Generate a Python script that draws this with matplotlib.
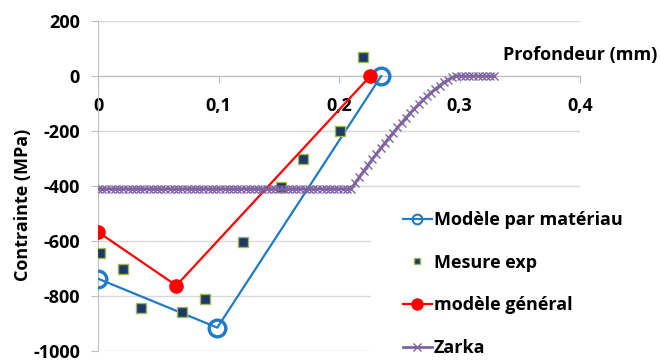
import matplotlib
matplotlib.use("Agg")
import matplotlib.pyplot as plt

# data
mat_x = [0, 0.099, 0.235]
mat_y = [-737, -915, 0]

exp_x = [0.002, 0.021, 0.036, 0.07, 0.089, 0.12, 0.152, 0.17, 0.201, 0.22]
exp_y = [-642, -702, -842, -858, -812, -605, -402, -300, -200, 68]

gen_x = [0, 0.065, 0.226]
gen_y = [-567, -762, 0]

zarka_x = [0, 0.0035, 0.007, 0.0105, 0.014, 0.0175, 0.021, 0.0245, 0.028, 0.0315,
           0.035, 0.0385, 0.042, 0.0455, 0.049, 0.0525, 0.056, 0.0595, 0.063, 0.0665,
           0.07, 0.0735, 0.077, 0.0805, 0.084, 0.0875, 0.091, 0.0945, 0.098, 0.1015,
           0.105, 0.1085, 0.112, 0.1155, 0.119, 0.1225, 0.126, 0.1295, 0.133, 0.1365,
           0.14, 0.1435, 0.147, 0.1505, 0.154, 0.1575, 0.161, 0.1645, 0.168, 0.1715,
           0.175, 0.1785, 0.182, 0.1855, 0.189, 0.1925, 0.196, 0.1995, 0.203, 0.2065,
           0.21, 0.2135, 0.217, 0.2205, 0.224, 0.2275, 0.231, 0.2345, 0.238, 0.2415,
           0.245, 0.2485, 0.252, 0.2555, 0.259, 0.2625, 0.266, 0.2695, 0.273, 0.2765,
           0.28, 0.2835, 0.287, 0.2905, 0.294, 0.2975, 0.301, 0.3045, 0.308, 0.3115,
           0.315, 0.3185, 0.322, 0.3255, 0.329]
zarka_y = [-410] * 61 + [-388, -366, -345, -324, -303, -283, -263, -244, -224, -206,
                         -187, -170, -152, -135, -119, -103, -88, -74, -60, -47,
                         -35, -23, -14, -5, 0] + [0] * 9

xticks = [0, 0.1, 0.2, 0.3, 0.4]
xtick_labels = ["0", "0,1", "0,2", "0,3", "0,4"]
yticks = [200, 0, -200, -400, -600, -800, -1000]
ytick_labels = ["200", "0", "-200", "-400", "-600", "-800", "-1000"]

plt.rcParams['font.family'] = ['Open Sans', 'DejaVu Sans']
plt.rcParams['font.weight'] = 'bold'
fs = 13

fig = plt.figure(figsize=(6.6, 3.62), dpi=100)
ax = fig.add_axes([98/660, 1-351/362, 482/660, 330/362])

ax.plot(mat_x, mat_y, color='#1F7BC8', lw=1.6, marker='o', ms=12, mfc='none',
        mew=2.4, label='Modèle par matériau', zorder=3)
ax.plot(exp_x, exp_y, ls='none', marker='s', ms=7, mfc='#1F3864', mec='#9BBB59',
        mew=1, label='Mesure exp', zorder=4)
ax.plot(gen_x, gen_y, color='#FF0000', lw=1.6, marker='o', ms=9.5,
        label='modèle général', zorder=5)
ax.plot(zarka_x, zarka_y, color='#8064A2', lw=2, marker='x', ms=6, mew=1,
        label='Zarka', zorder=6)

ax.set_xlim(0, 0.4)
ax.set_ylim(-1000, 200)
ax.set_xticks(xticks)
ax.set_xticklabels(xtick_labels)
ax.set_yticks(yticks)
ax.set_yticklabels(ytick_labels)

# gridlines: the lower ones stop where the legend starts
for v in yticks:
    x_end = 0.4 if v > -500 else 0.2257
    ax.plot([0, x_end], [v, v], color='#D9D9D9', lw=1, zorder=0)

for s in ['top', 'right']:
    ax.spines[s].set_visible(False)
ax.spines['bottom'].set_position(('data', 0))
ax.spines['bottom'].set_color('#BFBFBF')
ax.spines['left'].set_color('#BFBFBF')
ax.tick_params(axis='both', colors='#BFBFBF', labelcolor='black', labelsize=fs, length=5)
ax.tick_params(axis='x', pad=10)
ax.tick_params(axis='y', pad=8)

ax.set_ylabel('Contrainte (MPa)', fontsize=fs, fontweight='bold')
ax.yaxis.set_label_coords(-0.137, 0.442)
fig.text(657/660, 1-55/362, 'Profondeur (mm)', fontsize=13, fontweight='bold',
         ha='right', va='center')

leg = ax.legend(loc='upper left', bbox_to_anchor=(403/660, 1-211/362),
                bbox_transform=fig.transFigure, frameon=False,
                fontsize=fs, labelspacing=1.37, handlelength=1.6, handletextpad=0.1,
                borderpad=0, borderaxespad=0)
for h, ms in zip(leg.legend_handles, [7, 5, 8, 6]):
    h.set_markersize(ms)
leg.legend_handles[0].set_markeredgewidth(1.5)

fig.savefig('out.png', dpi=100)
